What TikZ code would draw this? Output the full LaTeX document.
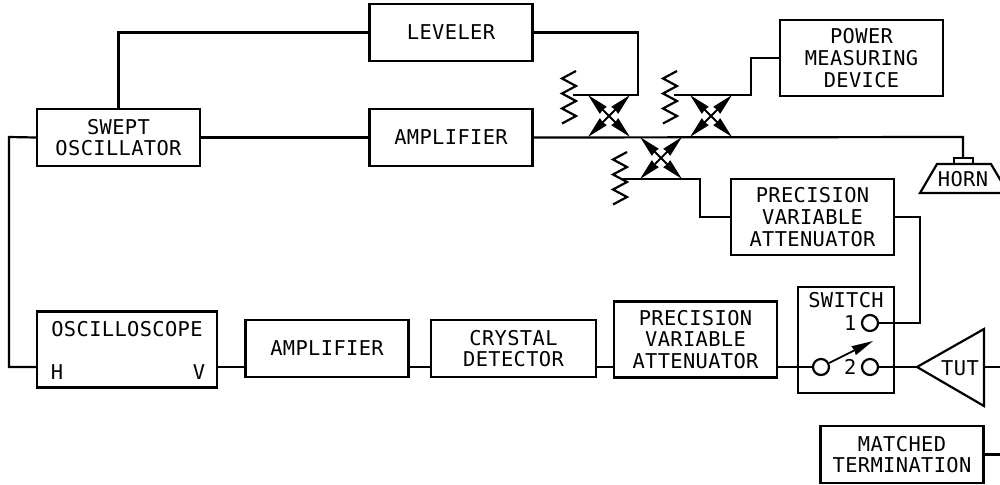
\documentclass[tikz,border=0pt]{standalone}
\usepackage{fontspec}
\setmonofont[LetterSpace=1.8]{DejaVu Sans Mono}
\usepackage{tikz}
\usetikzlibrary{arrows.meta,positioning,calc}

\begin{document}
\begin{tikzpicture}[
    x=0.02cm, y=-0.02cm,
    line width=0.44mm,
    box/.style={draw, minimum width=3.26cm, minimum height=1.14cm, align=center, inner sep=0pt, font=\ttfamily\fontsize{11.6}{12.4}\selectfont},
    tallbox/.style={box, minimum height=1.52cm},
    lbl/.style={inner sep=0pt, font=\ttfamily\fontsize{11.6}{12.4}\selectfont},
    port/.style={draw, circle, minimum size=0.32cm, inner sep=0pt},
    arrow/.style={-{Stealth[length=4.3mm,width=1.9mm,inset=0.15mm]}, line width=0.36mm}
]
\useasboundingbox (0,0) rectangle (1000,484);
\clip (0,0) rectangle (1000,484);

% Top row
\node[box] (LEV) at (451, 32.5) {LEVELER};
\node[box] (OSC) at (118.5, 137.5) {SWEPT\\OSCILLATOR};
\node[box] (AMP) at (451, 137.5) {AMPLIFIER};
\node[tallbox] (PWR) at (861.5, 58) {POWER\\MEASURING\\DEVICE};
\node[tallbox] (ATT) at (812.5, 217) {PRECISION\\VARIABLE\\ATTENUATOR};

% Bottom row
\node[tallbox, minimum width=3.6cm] (SCP) at (127, 349.5) {};
\node[lbl] (SCPT) at (127, 329) {OSCILLOSCOPE};
\node[lbl] (H) at (57, 372) {H};
\node[lbl] (V) at (199, 372) {V};
\node[box] (AMPB) at (327, 348.5) {AMPLIFIER};
\node[box, minimum width=3.3cm] (DET) at (513.5, 348.5) {CRYSTAL\\DETECTOR};
\node[tallbox] (ATTB) at (695.5, 339.5) {PRECISION\\VARIABLE\\ATTENUATOR};
\node[box] (MAT) at (902, 454.5) {MATCHED\\TERMINATION};

% Switch
\node[draw, minimum width=1.92cm, minimum height=2.12cm] (SW) at (846, 340) {};
\node[lbl] (SWT) at (846, 300) {SWITCH};
\node[port] (P1) at (870, 323) {};
\node[port] (P2) at (870, 367) {};
\node[port] (P0) at (821, 367) {};
\node[lbl, left=2pt of P1] (N1) {1};
\node[lbl, left=2pt of P2] (N2) {2};
\coordinate (ARMEND) at (873, 341);
\draw[arrow] (P0) -- (ARMEND);

% Device under test
\draw (917, 367) coordinate (TUTIN) -- (984, 329) -- (984, 406) -- cycle;
\node[lbl] (TUT) at (960, 368) {TUT};

% Horn
\draw (954, 164) -- (954, 158) coordinate (HORNIN) -- (973, 158) -- (973, 164);
\draw (920, 193) -- (937, 164) -- (991, 164) -- (1008, 193) -- cycle;
\node[lbl] (HORN) at (963, 179) {HORN};

% Directional couplers
\foreach \cx/\cy/\cn in {609/116/A, 711/116/B, 661/158/C} {
  \coordinate (X\cn) at (\cx, \cy);
  \foreach \dx/\dy in {-21/-21, 21/-21, -21/21, 21/21}
    \draw[arrow] (X\cn) -- ($(X\cn)+(\dx,\dy)$);
}

% Resistors on couplers
\foreach \rx/\ry in {576/71, 677/71, 627/152} {
  \draw (\rx, \ry) -- ++(-14, 7.5) -- ++(14, 7.5) -- ++(-14, 7.5) -- ++(14, 7.5) -- ++(-14, 7.5) -- ++(14, 7.5) -- ++(-14, 7.5);
}

% Connectors
\coordinate (MAINJ) at (963, 137);
\draw (OSC.east) -- (AMP.west);
\draw (AMP.east) -- (MAINJ) -- (HORNIN -| MAINJ);
\draw (OSC.north) |- (LEV.west);
\draw (LEV.east) -| (638, 95) -- (573, 95);
\draw (PWR.west) -- (751, 58) -- (751, 95) -- (674, 95);
\draw (623, 179) -- (700, 179) -- (700, 217) -- (ATT.west);
\draw (OSC.west) -- (9, 137) -- (9, 367) -- (SCP.west |- 0, 367);
\draw (SCP.east |- 0, 367) -- (AMPB.west |- 0, 367);
\draw (AMPB.east |- 0, 367) -- (DET.west |- 0, 367);
\draw (DET.east |- 0, 367) -- (ATTB.west |- 0, 367);
\draw (ATTB.east |- 0, 367) -- (P0);
\draw (ATT.east) -- (920, 217) -- (920, 323) -- (P1);
\draw (P2) -- (TUTIN);
\draw (984, 367) -- (1000, 367);
\draw (MAT.east) -- (1000, 454.5);

\end{tikzpicture}
\end{document}
